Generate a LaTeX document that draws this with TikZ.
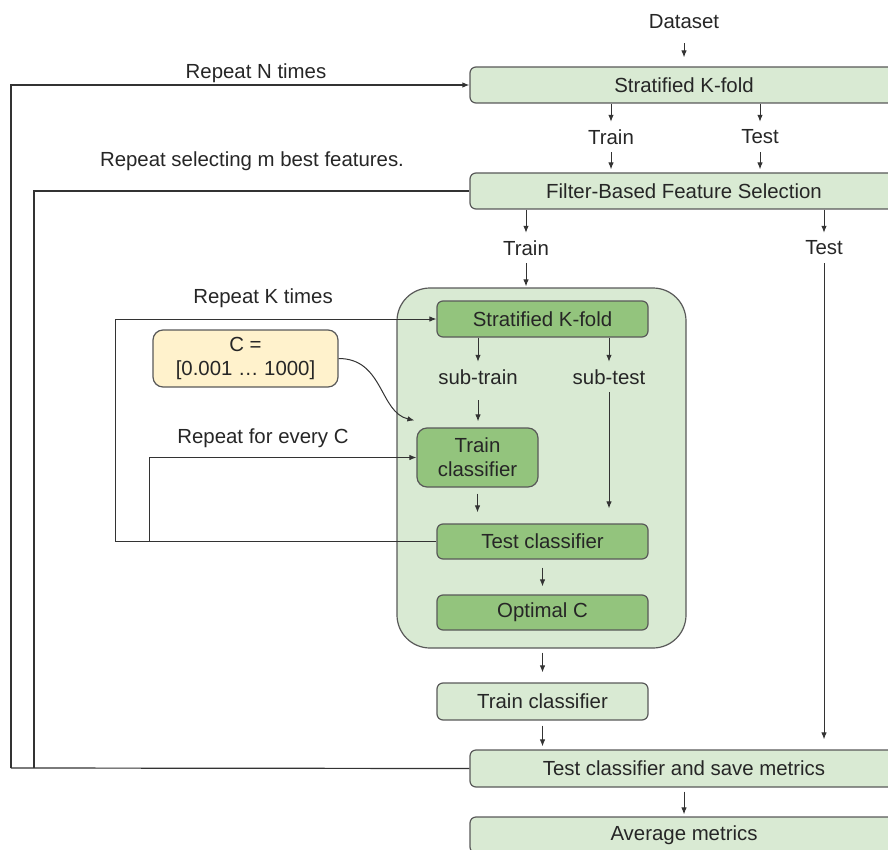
\documentclass[tikz,border=0pt]{standalone}
\usepackage{fontspec}
\setmainfont{Liberation Sans}
\usetikzlibrary{arrows.meta}
\definecolor{lgreen}{HTML}{D9EAD3}
\definecolor{dgreen}{HTML}{93C47D}
\definecolor{lyellow}{HTML}{FFF2CC}
\definecolor{ink}{HTML}{333333}

\begin{document}
\begin{tikzpicture}[
  x = 1pt, y = -1pt,
  every node/.style = {font=\fontsize{20.4}{24}\selectfont, text=black!85, inner sep=0pt},
  box/.style = {draw=black!65, line width=1.2pt, fill=lgreen, rounded corners=6pt, minimum height=36pt},
  widebox/.style = {box, minimum width=428pt},
  subbox/.style = {box, fill=dgreen, minimum width=211pt},
  lbl/.style = {minimum height=30pt},
  arr/.style = {draw=ink, line width=1pt, -{Latex[length=7pt,width=5.5pt]}},
  wire/.style = {draw=ink, line width=1.2pt},
]

\clip (0,0) rectangle (888,850);

\node[lbl] (data) at (684,22) {Dataset};
\node[widebox] (kfold) at (684,85) {Stratified K-fold};
\node[lbl] (tr1) at (611,137) {Train};
\node[lbl] (te1) at (760,137) {Test};
\node[widebox] (fbfs) at (684,191) {Filter-Based Feature Selection};
\node[lbl] (tr2) at (526,248) {Train};
\node[lbl] (te2) at (824,248) {Test};
\node[box, minimum width=289pt, minimum height=360pt, rounded corners=33pt] (pool) at (541.5,468) {};
\node[subbox] (ikfold) at (542.5,319) {Stratified K-fold};
\node[lbl] (subtr) at (478,377) {sub-train};
\node[lbl] (subte) at (609,377) {sub-test};
\node[subbox, minimum width=121pt, minimum height=59pt, rounded corners=10pt, align=center] (itrain) at (477.5,457.5) {Train\\classifier};
\node[subbox, minimum height=35pt] (itest) at (542.5,541.5) {Test classifier};
\node[subbox, minimum height=35pt] (optc) at (542.5,612.5) {Optimal C};
\node[box, minimum width=211pt, minimum height=37pt] (train) at (542.5,701.5) {Train classifier};
\node[widebox, minimum height=37pt] (test) at (684,768.5) {Test classifier and save metrics};
\node[widebox] (avg) at (684,835) {Average metrics};
\node[box, fill=lyellow, minimum width=185pt, minimum height=57pt, rounded corners=10pt, align=center] (cset) at (245.5,358.5) {C =\\{}[0.001 … 1000]};

\node (repn) at (256,73) {Repeat N times};
\node (repm) at (252,161) {Repeat selecting m best features.};
\node (repk) at (263,298) {Repeat K times};
\node (repc) at (263,438) {Repeat for every C};

\coordinate (nback) at (11,768);
\coordinate (mback) at (34,768);
\coordinate (kback) at (115,541.5);
\coordinate (cback) at (149,541.5);

\draw[wire] (test.west) -- (nback);
\draw[wire, -{Latex[length=7pt,width=5.5pt]}] (nback) |- (kfold.west);
\draw[wire] (mback) |- (fbfs.west);
\draw[wire] (itest.west) -- (kback);
\draw[arr] (kback) |- (ikfold.west);
\draw[arr] (cback) |- (itrain.west);

\draw[arr, shorten <=6pt, shorten >=9pt] (data.south) -- (kfold.north);
\foreach \p in {tr1, te1} {
  \draw[arr] (kfold.south -| \p) -- (\p.north);
  \draw[arr, shorten >=3pt] (\p.south) -- (fbfs.north -| \p);
}
\foreach \p in {tr2, te2}
  \draw[arr] (fbfs.south -| \p) -- (\p.north);
\draw[arr, shorten >=1pt] (tr2.south) -- (pool.north -| tr2);
\draw[arr, shorten >=10pt] (te2.south) -- (test.north -| te2);

\foreach \p in {subtr, subte}
  \draw[arr] (ikfold.south -| \p) -- (\p.north);
\draw[arr, shorten <=8pt, shorten >=6pt] (subtr.south) -- (itrain.north -| subtr);
\draw[arr, shorten >=15pt] (subte.south) -- (itest.north -| subte);
\draw[arr, shorten <=6pt, shorten >=11pt] (itrain.south) -- (itest.north -| itrain);
\draw[arr, shorten <=8pt, shorten >=8pt] (itest) -- (optc);
\draw[arr] (cset.east) .. controls +(45,0) and +(-35,-8) .. ([shift={(-2,-7)}]itrain.north west);

\draw[arr, shorten <=4pt, shorten >=10pt] (pool.south -| train) -- (train.north);
\draw[arr, shorten <=5pt, shorten >=3pt] (train.south) -- (test.north -| train);
\draw[arr, shorten <=4pt, shorten >=2pt] (test) -- (avg);

\end{tikzpicture}
\end{document}
